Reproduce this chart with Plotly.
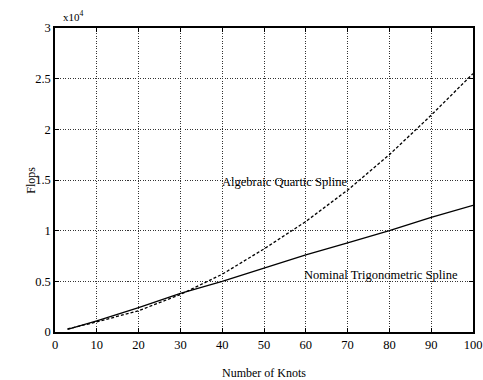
import plotly.graph_objects as go

knots = [3, 10, 20, 30, 40, 50, 60, 70, 80, 90, 100]
quartic_flops = [300, 1000, 2100, 3700, 5700, 8200, 10900, 14000, 17500, 21400, 25500]
trig_flops = [250, 1100, 2400, 3800, 5000, 6300, 7600, 8800, 10000, 11300, 12500]

x_ticks = [0, 10, 20, 30, 40, 50, 60, 70, 80, 90, 100]
y_tickvals = [0, 5000, 10000, 15000, 20000, 25000, 30000]
y_ticktext = ["0", "0.5", "1", "1.5", "2", "2.5", "3"]

FONT = "Liberation Serif, Times New Roman, serif"

fig = go.Figure()
fig.add_trace(go.Scatter(x=knots, y=quartic_flops, mode="lines",
                         line=dict(color="black", width=1.3, dash="3px,2px"),
                         showlegend=False))
fig.add_trace(go.Scatter(x=knots, y=trig_flops, mode="lines",
                         line=dict(color="black", width=1.3),
                         showlegend=False))

axis_common = dict(showline=True, linecolor="black", linewidth=1.5, mirror="ticks",
                   ticks="inside", ticklen=4, tickcolor="black",
                   showgrid=True, gridcolor="#333333", gridwidth=1, griddash="1px,1.5px",
                   zeroline=False, ticklabeloverflow="allow",
                   tickfont=dict(family=FONT, size=12.5, color="black"))

fig.update_xaxes(range=[0, 100], tickvals=x_ticks, **axis_common)
fig.update_yaxes(range=[0, 30000], tickvals=y_tickvals, ticktext=y_ticktext, **axis_common)

fig.add_annotation(x=54.8, y=14800, text="Algebraic Quartic Spline", showarrow=False,
                   font=dict(family=FONT, size=12.5, color="black"))
fig.add_annotation(x=78, y=5600, text="Nominal Trigonometric Spline", showarrow=False,
                   font=dict(family=FONT, size=12.5, color="black"))
fig.add_annotation(xref="paper", yref="paper", x=0.5, y=-0.105, xanchor="center", yanchor="top",
                   text="Number of Knots", showarrow=False,
                   font=dict(family=FONT, size=12, color="black"))
fig.add_annotation(xref="paper", yref="paper", x=-0.058, y=0.5, xanchor="center", yanchor="middle",
                   textangle=-90, text="Flops", showarrow=False,
                   font=dict(family=FONT, size=12, color="black"))
fig.add_annotation(xref="paper", yref="paper", x=0.0, y=1.0, xanchor="left", yanchor="bottom",
                   xshift=6, yshift=3, text="x10<sup>4</sup>", showarrow=False,
                   font=dict(family=FONT, size=11, color="black"))

fig.update_layout(width=483, height=380, margin=dict(l=55, r=1, t=28, b=48),
                  plot_bgcolor="white", paper_bgcolor="white",
                  font=dict(family=FONT, color="black"))

fig.write_html("out.html")
